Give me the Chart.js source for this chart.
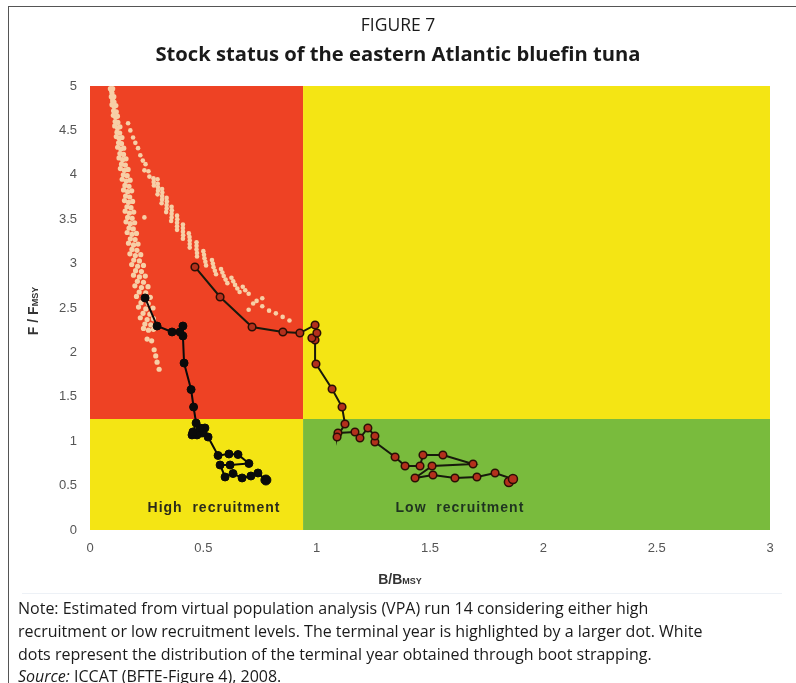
<!DOCTYPE html>
<html>
<head>
<meta charset="utf-8">
<script src="https://cdn.jsdelivr.net/npm/chart.js@4.4.1/dist/chart.umd.min.js"></script>
<style>
  html, body { margin: 0; padding: 0; background: #ffffff; }
  body { width: 796px; height: 683px; position: relative; overflow: hidden; font-family: "Open Sans", "Noto Sans", sans-serif; color: #1a1a1a; }
  #frame { position: absolute; left: 8px; top: 6px; width: 900px; height: 900px; border-left: 1px solid #555; border-top: 1px solid #555; }
  #chartWrap { position: absolute; left: 0; top: 0; width: 796px; height: 683px; }
  #fig { position: absolute; left: 0; width: 796px; top: 12px; text-align: center; font-size: 17.5px; line-height: 24px; }
  #title { position: absolute; left: 0; width: 796px; top: 40px; text-align: center; font-size: 20.2px; font-weight: bold; line-height: 26px; }
  #note { position: absolute; left: 18px; top: 597px; font-size: 16px; line-height: 22.8px; white-space: nowrap; }
  #edge { position: absolute; left: 22px; top: 593px; width: 760px; height: 0; border-top: 1px solid #edf1f6; }
</style>
</head>
<body>
<div id="frame"></div>
<div id="edge"></div>
<div id="chartWrap"><canvas id="c" width="796" height="683"></canvas></div>
<div id="fig">FIGURE 7</div>
<div id="title">Stock status of the eastern Atlantic bluefin tuna</div>
<div id="note">Note: Estimated from virtual population analysis (VPA) run 14 considering either high<br>recruitment or low recruitment levels. The terminal year is highlighted by a larger dot. White<br>dots represent the distribution of the terminal year obtained through boot strapping.<br><i>Source:</i> ICCAT (BFTE-Figure 4), 2008.</div>
<script>
// ---------- DATA ----------
// High recruitment trajectory (B/Bmsy, F/Fmsy)
const highB = [0.776,0.741,0.710,0.671,0.631,0.596,0.574,0.618,0.701,0.653,0.613,0.565,0.521,0.507,0.494,0.485,0.472,0.450,0.454,0.468,0.457,0.446,0.415,0.410,0.410,0.397,0.362,0.296,0.243];
const highF = [0.563,0.642,0.608,0.586,0.636,0.597,0.732,0.732,0.749,0.850,0.856,0.839,1.047,1.149,1.092,1.149,1.070,1.070,1.104,1.205,1.385,1.582,1.880,2.185,2.297,2.230,2.230,2.297,2.613];

// Low recruitment trajectory
const lowB = [1.848,1.866,1.787,1.707,1.610,1.513,1.434,1.509,1.690,1.557,1.469,1.456,1.390,1.346,1.257,1.257,1.226,1.191,1.169,1.094,1.090,1.125,1.112,1.068,0.997,0.993,0.979,1.001,0.993,0.926,0.851,0.715,0.574,0.463];
const lowF = [0.541,0.574,0.642,0.597,0.586,0.619,0.586,0.721,0.743,0.845,0.845,0.721,0.721,0.822,0.991,1.059,1.149,1.036,1.104,1.092,1.047,1.194,1.385,1.588,1.869,2.140,2.162,2.218,2.309,2.218,2.230,2.286,2.624,2.962];

// Bootstrap distribution of the terminal year (white dots), high recruitment
const bootHigh = [
 [.090,4.97],[.095,4.95],[.100,4.97],[.097,4.92],[.094,4.88],[.100,4.86],[.105,4.88],[.100,4.83],[.106,4.82],
 [.097,4.79],[.106,4.77],[.114,4.78],[.104,4.72],[.116,4.71],[.103,4.67],[.113,4.65],[.121,4.66],[.111,4.60],[.123,4.59],
 [.109,4.55],[.121,4.53],[.132,4.54],[.119,4.48],[.131,4.47],[.116,4.43],[.129,4.41],[.141,4.42],[.126,4.36],[.139,4.35],
 [.122,4.31],[.136,4.29],[.149,4.30],[.132,4.24],[.148,4.23],[.128,4.19],[.144,4.17],[.159,4.18],[.139,4.12],[.156,4.11],
 [.134,4.07],[.152,4.05],[.168,4.06],[.147,4.00],[.164,3.99],[.142,3.95],[.160,3.93],[.177,3.94],[.154,3.88],[.172,3.87],
 [.148,3.83],[.166,3.81],[.184,3.82],[.157,3.76],[.175,3.75],[.152,3.71],[.170,3.69],[.188,3.70],[.163,3.64],[.181,3.63],
 [.155,3.59],[.174,3.57],[.193,3.58],[.166,3.52],[.186,3.51],[.159,3.47],[.178,3.45],[.197,3.46],[.172,3.40],[.191,3.39],
 [.164,3.35],[.185,3.33],[.205,3.34],[.178,3.28],[.199,3.27],[.170,3.23],[.192,3.21],[.212,3.22],[.185,3.16],[.207,3.15],
 [.176,3.11],[.200,3.09],[.224,3.10],[.193,3.04],[.218,3.03],[.184,2.99],[.210,2.97],[.236,2.98],[.201,2.92],[.227,2.91],
 [.192,2.87],[.218,2.85],[.244,2.86],[.209,2.80],[.236,2.79],[.198,2.75],[.227,2.73],[.256,2.74],[.217,2.68],[.246,2.67],
 [.205,2.63],[.236,2.61],[.266,2.62],[.225,2.56],[.257,2.55],[.214,2.51],[.246,2.49],[.278,2.50],[.234,2.44],[.264,2.43],
 [.222,2.39],[.252,2.37],[.280,2.38],[.242,2.32],[.268,2.31],[.236,2.27],[.258,2.25],[.280,2.26],[.252,2.15],[.272,2.13],
 [.283,2.03],[.290,1.96],[.296,1.89],[.305,1.81]
];

// Bootstrap distribution of the terminal year (white dots), low recruitment
const bootLow = [
 [.168,4.58],[.178,4.50],[.190,4.42],[.200,4.36],[.212,4.30],[.222,4.22],[.233,4.16],[.245,4.12],[.240,4.05],[.258,4.04],
 [.262,3.98],[.280,3.96],[.298,3.95],[.281,3.92],[.299,3.90],[.282,3.88],[.300,3.86],[.318,3.84],[.300,3.82],[.319,3.80],
 [.298,3.78],[.318,3.76],[.338,3.74],[.318,3.72],[.339,3.70],[.316,3.68],[.338,3.66],[.360,3.64],[.338,3.62],[.361,3.60],
 [.336,3.58],[.360,3.56],[.384,3.54],[.360,3.52],[.385,3.50],[.358,3.48],[.384,3.46],[.410,3.44],[.384,3.42],[.410,3.40],
 [.384,3.38],[.410,3.36],[.436,3.34],[.411,3.32],[.439,3.30],[.410,3.28],[.440,3.26],[.470,3.24],[.440,3.22],[.470,3.20],
 [.440,3.18],[.470,3.16],[.500,3.14],[.472,3.12],[.503,3.10],[.472,3.08],[.505,3.06],[.538,3.04],[.509,3.02],[.542,3.00],
 [.512,2.98],[.545,2.96],[.578,2.94],[.551,2.92],[.584,2.90],[.556,2.88],[.590,2.86],[.624,2.84],[.598,2.82],[.632,2.80],
 [.606,2.78],[.640,2.76],[.674,2.74],[.650,2.72],[.685,2.70],[.660,2.68],[.700,2.66],
 [.735,2.58],[.760,2.52],[.720,2.55],[.790,2.47],[.820,2.44],[.850,2.40],[.880,2.36],[.760,2.61],[.700,2.48],[.240,3.52]
];

// Stock status zones: boundaries on each axis
const zoneB = [0, 0.94, 3];
const zoneF = [0, 1.25, 5];
const zoneLabels = ["High  recruitment", "Low  recruitment"];

// Axis ticks
const xTicks = [0, 0.5, 1, 1.5, 2, 2.5, 3];
const yTicks = [0, 0.5, 1, 1.5, 2, 2.5, 3, 3.5, 4, 4.5, 5];

// ---------- BUILD ----------
const toPts = (xs, ys) => xs.map((x, i) => ({ x, y: ys[i] }));
const pairPts = arr => arr.map(p => ({ x: p[0], y: p[1] }));

const COLORS = {
  red: '#ee4224', yellow: '#f4e514', green: '#79bb3d',
  boot: '#f7cfa6'
};

const zonesPlugin = {
  id: 'zones',
  beforeDatasetsDraw(chart) {
    const { ctx, scales: { x, y } } = chart;
    // [row][col] : row 0 = low F, row 1 = high F; col 0 = low B, col 1 = high B
    const fills = [[COLORS.yellow, COLORS.green], [COLORS.red, COLORS.yellow]];
    ctx.save();
    for (let r = 0; r < 2; r++) {
      for (let c = 0; c < 2; c++) {
        const x0 = x.getPixelForValue(zoneB[c]), x1 = x.getPixelForValue(zoneB[c + 1]);
        const y0 = y.getPixelForValue(zoneF[r + 1]), y1 = y.getPixelForValue(zoneF[r]);
        ctx.fillStyle = fills[r][c];
        ctx.fillRect(x0, y0, x1 - x0, y1 - y0);
      }
    }
    // zone captions
    ctx.font = 'bold 14px "Liberation Sans", Arial, sans-serif';
    try { ctx.letterSpacing = '1px'; } catch (e) {}
    ctx.textAlign = 'center';
    ctx.textBaseline = 'middle';
    const capY = y.getPixelForValue(zoneF[0]) - 22;
    ctx.fillStyle = '#2b2b1a';
    ctx.fillText(zoneLabels[0], x.getPixelForValue(0.547), capY);
    ctx.fillStyle = '#1f3320';
    ctx.fillText(zoneLabels[1], x.getPixelForValue(1.632), capY);
    ctx.restore();
  },
  afterDraw(chart) {
    const { ctx } = chart;
    ctx.save();
    ctx.fillStyle = '#333';
    ctx.textBaseline = 'alphabetic';
    // x axis title  B/B MSY
    const big = 'bold 14px "Liberation Sans", Arial, sans-serif';
    const small = 'bold 9px "Liberation Sans", Arial, sans-serif';
    ctx.font = big; const w1 = ctx.measureText('B/B').width;
    ctx.font = small; const w2 = ctx.measureText('MSY').width;
    const cx = 400, by = 584;
    ctx.font = big; ctx.textAlign = 'left';
    ctx.fillText('B/B', cx - (w1 + w2) / 2, by);
    ctx.font = small;
    ctx.fillText('MSY', cx - (w1 + w2) / 2 + w1, by);
    // y axis title  F / F MSY (rotated)
    ctx.font = big; const v1 = ctx.measureText('F / F').width;
    ctx.font = small; const v2 = ctx.measureText('MSY').width;
    ctx.translate(38, 311);
    ctx.rotate(-Math.PI / 2);
    ctx.font = big;
    ctx.fillText('F / F', -(v1 + v2) / 2, 0);
    ctx.font = small;
    ctx.fillText('MSY', -(v1 + v2) / 2 + v1, 0);
    ctx.restore();
  }
};

const tickFont = { family: '"Liberation Sans", Arial, sans-serif', size: 13 };

new Chart(document.getElementById('c'), {
  type: 'scatter',
  data: {
    datasets: [
      {
        label: 'High recruitment',
        data: toPts(highB, highF),
        showLine: true, tension: 0,
        borderColor: '#0a0a0a', borderWidth: 2,
        pointBackgroundColor: '#0a0a0a', pointBorderColor: '#0a0a0a', pointBorderWidth: 1,
        pointRadius: c => (c.dataIndex === 0 ? 5 : 4),
        order: 0
      },
      {
        label: 'Low recruitment',
        data: toPts(lowB, lowF),
        showLine: true, tension: 0,
        borderColor: '#17190c', borderWidth: 2,
        pointBackgroundColor: '#b3301c', pointBorderColor: '#2a0e05', pointBorderWidth: 1.5,
        pointRadius: c => (c.dataIndex <= 1 ? 4.5 : 3.8),
        order: 1
      },
      {
        label: 'Bootstrap (high)',
        data: pairPts(bootHigh),
        pointBackgroundColor: COLORS.boot, pointBorderWidth: 0, pointRadius: 2.6,
        order: 2
      },
      {
        label: 'Bootstrap (low)',
        data: pairPts(bootLow),
        pointBackgroundColor: COLORS.boot, pointBorderWidth: 0, pointRadius: 2.3,
        order: 3
      }
    ]
  },
  options: {
    responsive: false,
    animation: false,
    events: [],
    layout: { padding: { top: 86, right: 26, bottom: 113, left: 0 } },
    plugins: { legend: { display: false }, tooltip: { enabled: false } },
    scales: {
      x: {
        type: 'linear', min: 0, max: 3,
        afterBuildTicks: s => { s.ticks = xTicks.map(v => ({ value: v })); },
        ticks: { color: '#555', font: tickFont, padding: 11, callback: v => String(v) },
        grid: { display: false, drawTicks: false },
        border: { display: false },
        afterFit: s => { s.height = 40; }
      },
      y: {
        type: 'linear', min: 0, max: 5,
        afterBuildTicks: s => { s.ticks = yTicks.map(v => ({ value: v })); },
        ticks: { color: '#555', font: tickFont, padding: 13, callback: v => String(v) },
        grid: { display: false, drawTicks: false },
        border: { display: false },
        afterFit: s => { s.width = 90; }
      }
    }
  },
  plugins: [zonesPlugin]
});
</script>
</body>
</html>
